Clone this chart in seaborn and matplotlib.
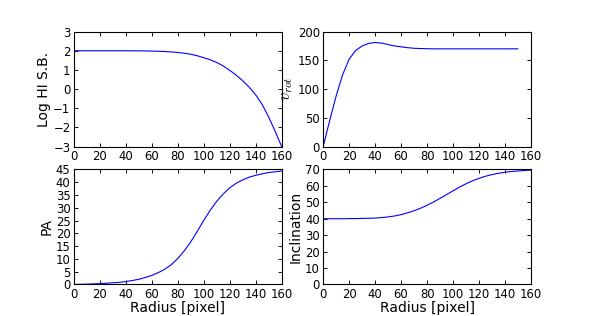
import numpy as np
import pandas as pd
import seaborn as sns
import matplotlib
matplotlib.use("Agg")
import matplotlib.pyplot as plt

# radius grid (pixel)
radius = [0, 5, 10, 15, 20, 25, 30, 35, 40, 45, 50, 55, 60, 65, 70, 75, 80,
          85, 90, 95, 100, 105, 110, 115, 120, 125, 130, 135, 140, 145, 150, 155, 160]

log_hi = [2.0, 2.0, 2.0, 2.0, 2.0, 2.0, 2.0, 2.0, 1.999, 1.997, 1.995, 1.99, 1.984,
          1.975, 1.96, 1.94, 1.91, 1.87, 1.82, 1.74, 1.64, 1.53, 1.39, 1.21, 0.98,
          0.73, 0.44, 0.10, -0.30, -0.80, -1.45, -2.20, -3.0]

vrot_radius = [0, 5, 10, 15, 20, 25, 30, 35, 40, 45, 50, 55, 60, 65, 70, 75, 80,
               85, 90, 100, 110, 120, 130, 140, 150]
vrot = [0, 45, 88, 125, 152, 167, 175, 179.5, 181, 180, 177.5, 175, 173.5, 172,
        171, 170.5, 170.2, 170, 170, 170, 170, 170, 170, 170, 170]

pa = [0.0, 0.05, 0.1, 0.2, 0.3, 0.45, 0.6, 0.8, 1.1, 1.5, 2.0, 2.7, 3.5, 4.6,
      5.9, 7.7, 10.1, 13.1, 16.6, 20.7, 25.0, 29.0, 32.5, 35.4, 37.8, 39.6, 40.9,
      42.0, 42.7, 43.3, 43.8, 44.1, 44.4]

incl = [40.0, 40.0, 40.0, 40.0, 40.1, 40.1, 40.2, 40.3, 40.4, 40.7, 41.1, 41.7,
        42.5, 43.6, 44.9, 46.4, 48.2, 50.2, 52.4, 54.7, 57.0, 59.3, 61.3, 63.1,
        64.6, 65.9, 66.9, 67.7, 68.3, 68.8, 69.1, 69.4, 69.6]

sns.set_style("ticks")
plt.rcParams.update({
    "font.family": ["DejaVu Sans"],
    "font.size": 10,
    "mathtext.fontset": "cm",
    "xtick.direction": "in",
    "ytick.direction": "in",
    "xtick.top": True,
    "ytick.right": True,
    "xtick.major.size": 4,
    "ytick.major.size": 4,
    "xtick.labelsize": 10.5,
    "ytick.labelsize": 10.5,
    "axes.labelsize": 12.5,
    "axes.edgecolor": "black",
    "axes.linewidth": 1.0,
    "xtick.color": "black",
    "ytick.color": "black",
    "axes.labelcolor": "black",
    "text.color": "black",
})

fig, axes = plt.subplots(2, 2, figsize=(7.375, 3.95), dpi=80)

panels = [
    (axes[0, 0], radius, log_hi, "Log HI S.B.", (-3, 3), np.arange(-3, 4, 1)),
    (axes[0, 1], vrot_radius, vrot, r"$v_{rot}$", (0, 200), np.arange(0, 201, 50)),
    (axes[1, 0], radius, pa, "PA", (0, 45), np.arange(0, 46, 5)),
    (axes[1, 1], radius, incl, "Inclination", (0, 70), np.arange(0, 71, 10)),
]

for ax, x, y, label, ylim, yticks in panels:
    df = pd.DataFrame({"r": x, "v": y})
    sns.lineplot(data=df, x="r", y="v", ax=ax, color="blue", linewidth=1)
    ax.set_xlim(0, 160)
    ax.set_xticks(np.arange(0, 161, 20))
    ax.set_ylim(*ylim)
    ax.set_yticks(yticks)
    ax.set_ylabel(label, labelpad=2)
    ax.set_xlabel("")
    ax.tick_params(pad=3)

axes[1, 0].set_xlabel("Radius [pixel]", labelpad=0)
axes[1, 1].set_xlabel("Radius [pixel]", labelpad=0)
axes[0, 1].yaxis.label.set_size(15)

fig.subplots_adjust(left=0.125, right=0.9, bottom=0.1, top=0.9, wspace=0.2, hspace=0.2)
fig.savefig("out.png", dpi=80, facecolor="white")
